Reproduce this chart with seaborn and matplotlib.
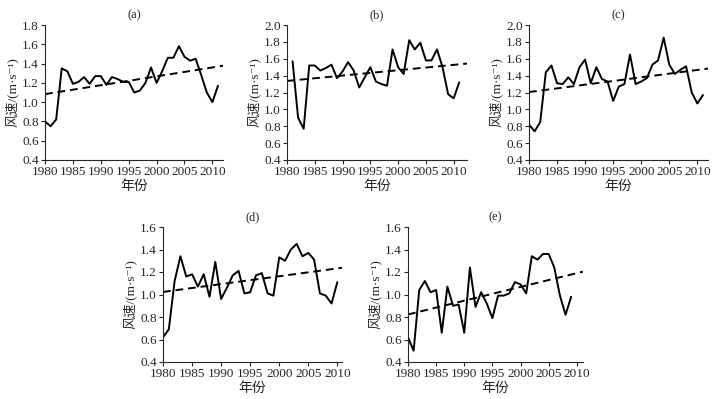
import numpy as np
import pandas as pd
import seaborn as sns
import matplotlib.pyplot as plt
from matplotlib.ticker import FormatStrFormatter

# wind speed series
years_a = np.arange(1980, 2012)
speed_a = [0.80, 0.75, 0.82, 1.35, 1.32, 1.19, 1.21, 1.26, 1.19, 1.27, 1.27, 1.18,
           1.26, 1.24, 1.21, 1.21, 1.10, 1.12, 1.20, 1.36, 1.20, 1.32, 1.46, 1.46,
           1.58, 1.47, 1.43, 1.45, 1.28, 1.10, 1.00, 1.17]

years_b = np.arange(1981, 2012)
speed_b = [1.57, 0.90, 0.77, 1.52, 1.52, 1.46, 1.49, 1.53, 1.37, 1.45, 1.56, 1.46,
           1.26, 1.38, 1.50, 1.33, 1.30, 1.28, 1.71, 1.50, 1.42, 1.82, 1.71, 1.79,
           1.58, 1.58, 1.71, 1.50, 1.18, 1.13, 1.32]

years_c = np.arange(1980, 2012)
speed_c = [0.82, 0.74, 0.85, 1.44, 1.52, 1.31, 1.30, 1.38, 1.30, 1.50, 1.59, 1.31,
           1.50, 1.36, 1.33, 1.10, 1.27, 1.30, 1.65, 1.30, 1.33, 1.37, 1.53, 1.58,
           1.85, 1.53, 1.42, 1.47, 1.51, 1.20, 1.07, 1.17]

years_d = np.arange(1980, 2011)
speed_d = [0.62, 0.69, 1.12, 1.34, 1.16, 1.18, 1.07, 1.18, 0.98, 1.29, 0.96, 1.06,
           1.17, 1.21, 1.01, 1.02, 1.17, 1.19, 1.01, 0.99, 1.33, 1.30, 1.40, 1.45,
           1.34, 1.37, 1.31, 1.01, 0.99, 0.92, 1.11]

years_e = np.arange(1980, 2010)
speed_e = [0.62, 0.50, 1.04, 1.12, 1.02, 1.04, 0.66, 1.07, 0.90, 0.91, 0.66, 1.24,
           0.89, 1.02, 0.92, 0.79, 0.99, 0.99, 1.01, 1.11, 1.09, 1.01, 1.34, 1.31,
           1.36, 1.36, 1.24, 0.99, 0.82, 0.98]

panels = ["(a)", "(b)", "(c)", "(d)", "(e)"]
series = [(years_a, speed_a), (years_b, speed_b), (years_c, speed_c),
          (years_d, speed_d), (years_e, speed_e)]
ylims = [(0.4, 1.8), (0.4, 2.0), (0.4, 2.0), (0.4, 1.6), (0.4, 1.6)]
xmax = [2011.9, 2012.4, 2011.9, 2010.8, 2011.1]

# axes boxes in pixels: left, top, right, bottom
boxes = [(45, 25, 223, 160), (287, 25, 467, 160), (529, 25, 708, 160),
         (163, 227, 342, 362), (408, 227, 583, 362)]

sns.set_style("ticks")
plt.rcParams["font.family"] = ["Liberation Serif", "DejaVu Serif", "Noto Sans CJK SC"]
plt.rcParams["font.size"] = 10

W, H = 715, 399
fig = plt.figure(figsize=(W / 100, H / 100), dpi=100)

for i, (name, (x, y)) in enumerate(zip(panels, series)):
    l, t, r, b = boxes[i]
    ax = fig.add_axes([l / W, 1 - b / H, (r - l) / W, (b - t) / H])
    ax.set_xlim(1980, xmax[i])
    ax.set_ylim(*ylims[i])
    df = pd.DataFrame({"year": x, "speed": y})
    sns.lineplot(data=df, x="year", y="speed", ax=ax, color="black", linewidth=1.4)
    sns.regplot(data=df, x="year", y="speed", ax=ax, scatter=False, ci=None,
                truncate=False, color="black",
                line_kws={"linestyle": (0, (4, 2.5)), "linewidth": 1.4})
    ax.set_xlim(1980, xmax[i])
    ax.set_ylim(*ylims[i])
    ax.set_xticks(np.arange(1980, 2011, 5))
    ax.set_yticks(np.arange(ylims[i][0], ylims[i][1] + 0.01, 0.2))
    ax.yaxis.set_major_formatter(FormatStrFormatter("%.1f"))
    ax.tick_params(direction="out", length=3, width=0.8, labelsize=9.5, pad=1.5)
    sns.despine(ax=ax)
    for s in ["left", "bottom"]:
        ax.spines[s].set_linewidth(0.8)
    ax.set_title(name, fontsize=9, pad=5)
    ax.set_xlabel("年份", fontsize=10, labelpad=1)
    ax.set_ylabel("风速/(m·s⁻¹)", fontsize=9.5, labelpad=2)

fig.savefig("out.png", dpi=100)
